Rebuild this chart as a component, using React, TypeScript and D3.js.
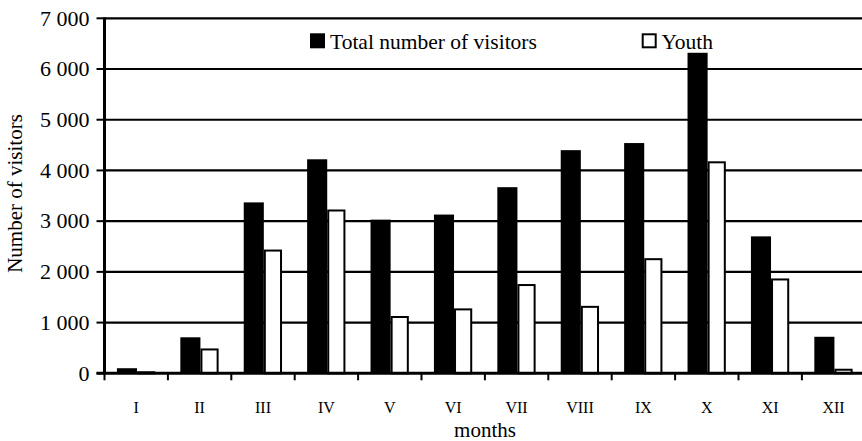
import React from "react";
import * as d3 from "d3";

const months = ["I", "II", "III", "IV", "V", "VI", "VII", "VIII", "IX", "X", "XI", "XII"];
const totalVisitors = [100, 710, 3370, 4220, 3030, 3130, 3670, 4400, 4540, 6320, 2700, 720];
const youthVisitors = [40, 490, 2440, 3230, 1130, 1280, 1760, 1330, 2270, 4180, 1870, 90];
const yTicks = [0, 1000, 2000, 3000, 4000, 5000, 6000, 7000];
const seriesNames = ["Total number of visitors", "Youth"];

const W = 862;
const H = 441;
const FONT = "Liberation Serif, Tinos, Times New Roman, Times, DejaVu Serif, serif";

function fmt(v: number): string {
  const s = String(v);
  if (v >= 1000) return s.slice(0, s.length - 3) + "\u00a0" + s.slice(s.length - 3);
  return s;
}

export default function App() {
  const left = 104.5;
  const bandW = 63.4;
  const x = d3.scaleBand<string>().domain(months).range([left, left + bandW * months.length]).paddingInner(0).paddingOuter(0);
  const y = d3.scaleLinear().domain([0, 7000]).range([373.3, 18.3]);
  const bw = x.bandwidth();
  const blackOff = 0.196 * bw;
  const blackW = 0.317 * bw;
  const whiteOuterStart = blackOff + blackW;
  const whiteOuterW = 0.287 * bw;
  const sw = 2;
  const ts = { fontFamily: FONT };

  return (
    <div style={{ position: "fixed", left: 0, top: 0 }}>
      <svg width={W} height={H} viewBox={`0 0 ${W} ${H}`} style={{ display: "block", background: "#fff", fontFamily: FONT }}>
        {yTicks.filter((t) => t > 0).map((t) => (
          <line key={"g" + t} x1={left} x2={W} y1={y(t)} y2={y(t)} stroke="#000" strokeWidth={2.2} />
        ))}
        {yTicks.map((t) => (
          <g key={"yt" + t}>
            <line x1={left - 8} x2={left} y1={y(t)} y2={y(t)} stroke="#000" strokeWidth={2} />
            <text x={89.5} y={y(t) + 7.3} textAnchor="end" style={ts} fontSize={22} fill="#000">
              {fmt(t)}
            </text>
          </g>
        ))}
        {months.map((m, i) => {
          const x0 = x(m) as number;
          return (
            <g key={"b" + m}>
              <rect x={x0 + blackOff} y={y(totalVisitors[i])} width={blackW} height={y(0) - y(totalVisitors[i])} fill="#000" />
              <rect
                x={x0 + whiteOuterStart + sw / 2}
                y={y(youthVisitors[i]) + sw / 2}
                width={whiteOuterW - sw}
                height={Math.max(0, y(0) - y(youthVisitors[i]) - sw / 2)}
                fill="#fff"
                stroke="#000"
                strokeWidth={sw}
              />
            </g>
          );
        })}
        <line x1={left} x2={left} y1={y(7000) - 1} y2={y(0) + 1.5} stroke="#000" strokeWidth={3} />
        <line x1={left - 8} x2={W} y1={y(0)} y2={y(0)} stroke="#000" strokeWidth={3} />
        {months.map((m) => (
          <line key={"xt" + m} x1={x(m) as number} x2={x(m) as number} y1={y(0)} y2={y(0) + 7} stroke="#000" strokeWidth={2} />
        ))}
        <line x1={left + bandW * 12} x2={left + bandW * 12} y1={y(0)} y2={y(0) + 7} stroke="#000" strokeWidth={2} />
        {months.map((m) => (
          <text key={"xl" + m} x={(x(m) as number) + bw / 2} y={413} textAnchor="middle" style={ts} fontSize={16} fill="#000">
            {m}
          </text>
        ))}
        <text x={485} y={437} textAnchor="middle" style={ts} fontSize={21} fill="#000">months</text>
        <text transform="translate(22,193.5) rotate(-90)" textAnchor="middle" style={ts} fontSize={21} fill="#000">
          Number of visitors
        </text>
        <rect x={310} y={33.3} width={15} height={15} fill="#000" />
        <text x={330} y={49} style={ts} fontSize={21.5} fill="#000">{seriesNames[0]}</text>
        <rect x={642.7} y={34.3} width={13} height={13} fill="#fff" stroke="#000" strokeWidth={2} />
        <text x={661.5} y={49} style={ts} fontSize={21.5} fill="#000">{seriesNames[1]}</text>
      </svg>
    </div>
  );
}
